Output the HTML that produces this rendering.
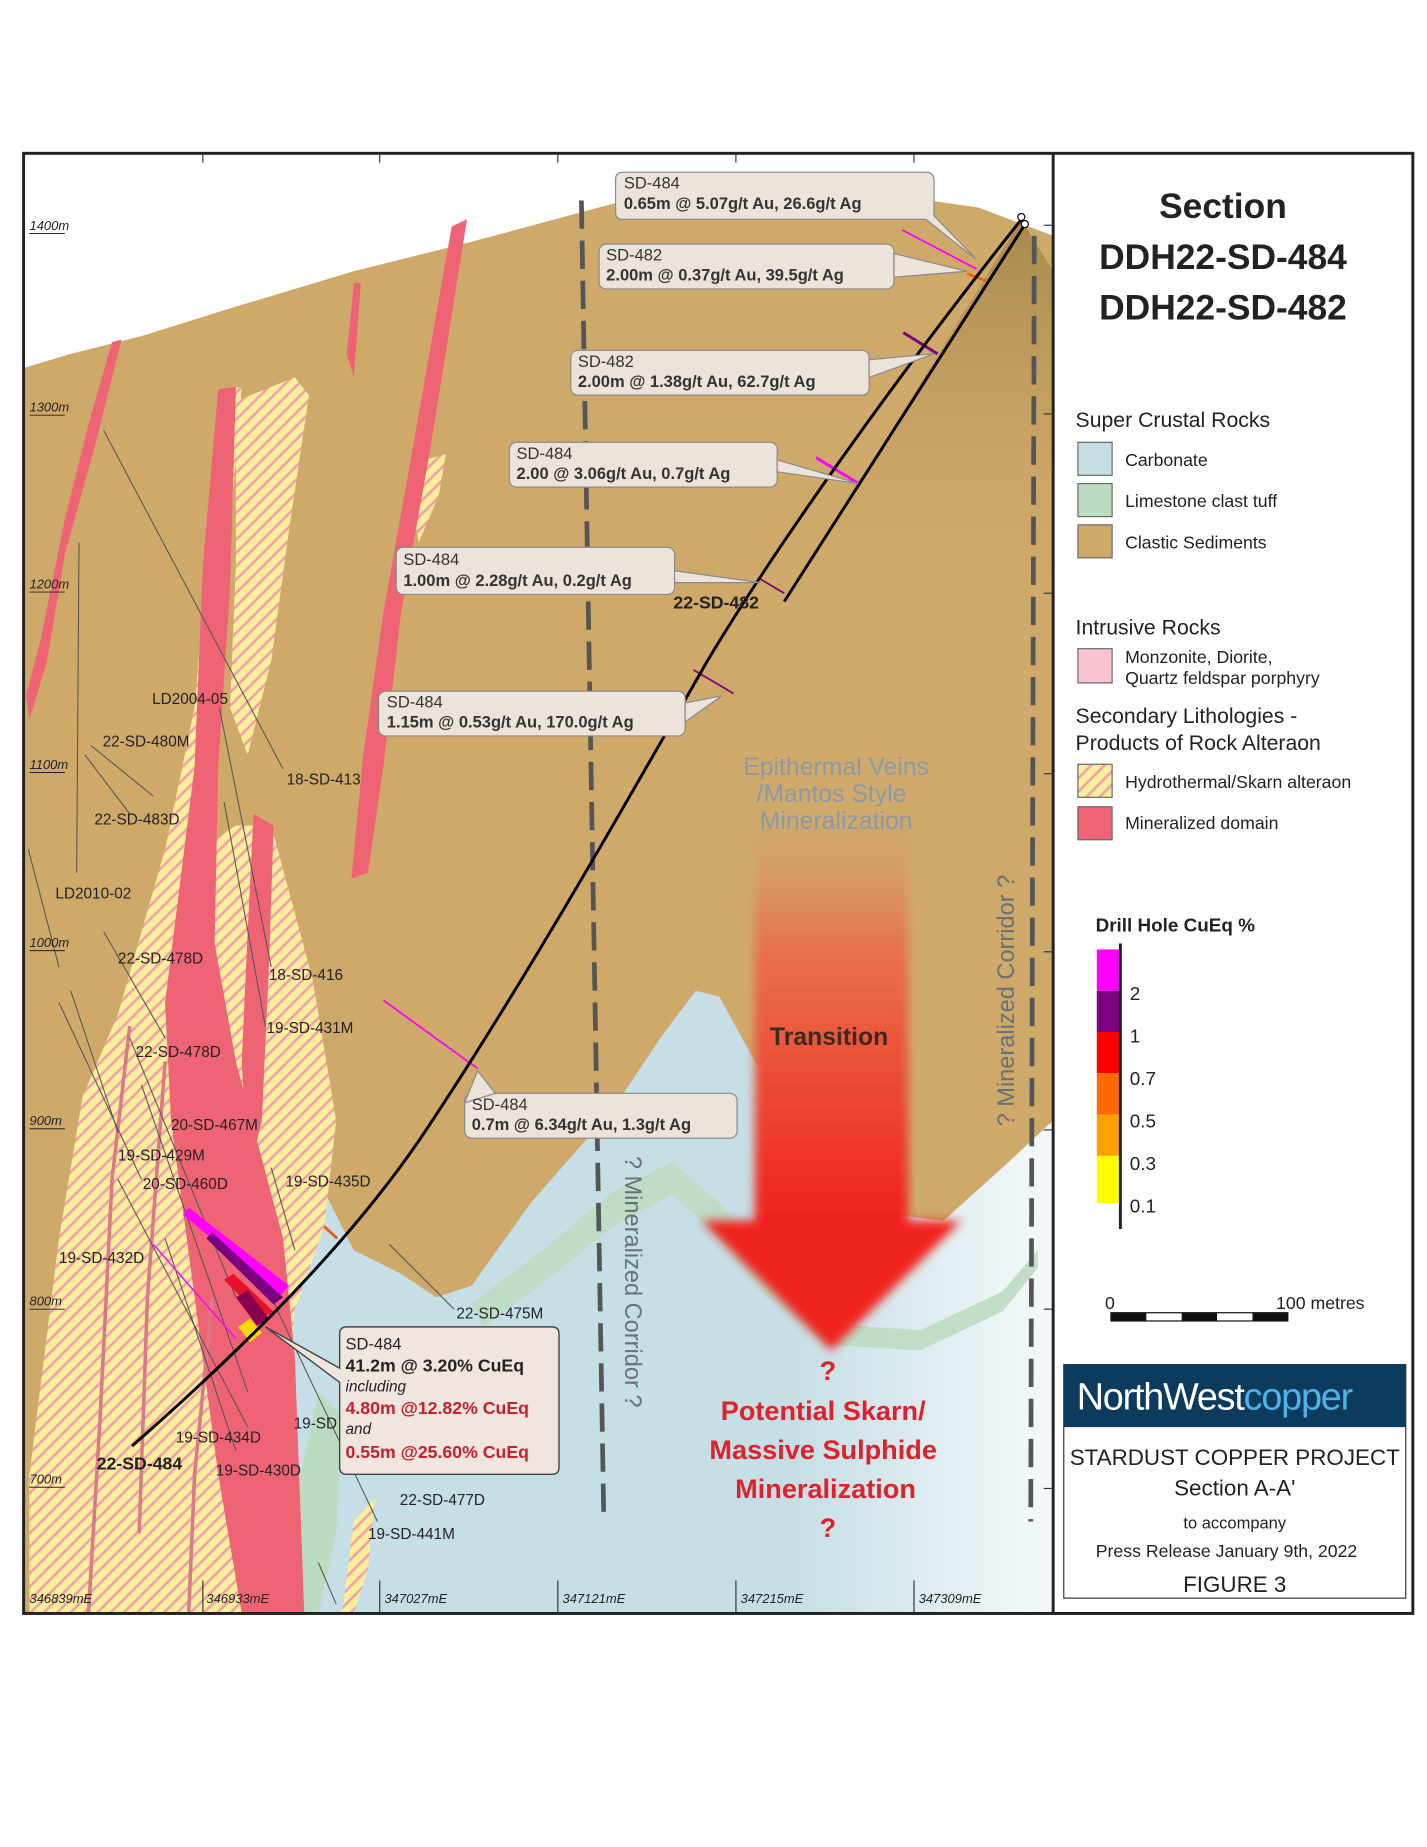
<!DOCTYPE html>
<html><head><meta charset="utf-8"><style>
html,body{margin:0;padding:0;background:#fff}
svg{display:block}
text{font-family:"Liberation Sans",sans-serif}
</style></head><body>
<svg width="1427" height="1847" viewBox="0 0 1210 1566" preserveAspectRatio="none" xmlns="http://www.w3.org/2000/svg">
<defs>
<pattern id="hatch" width="8" height="8" patternUnits="userSpaceOnUse" patternTransform="rotate(45)">
<rect width="8" height="8" fill="#fdee9c"/><rect width="2.2" height="8" fill="#f0a0a8"/>
</pattern>
<linearGradient id="blueFade" x1="0" x2="1" y1="0" y2="0">
<stop offset="0" stop-color="#c6dfe6"/><stop offset="0.75" stop-color="#c6dfe6"/><stop offset="1" stop-color="#f4f9fa"/>
</linearGradient>
<linearGradient id="arrowG" x1="0" x2="0" y1="0" y2="1">
<stop offset="0" stop-color="#d2a36a" stop-opacity="0.3"/><stop offset="0.3" stop-color="#e8734a"/><stop offset="1" stop-color="#f0201c"/>
</linearGradient>
<linearGradient id="shadeG" x1="0" x2="0" y1="0" y2="1">
<stop offset="0" stop-color="#9a7a40" stop-opacity="0.7"/><stop offset="1" stop-color="#cfa96a" stop-opacity="0"/>
</linearGradient>
<filter id="blur"><feGaussianBlur stdDeviation="4"/></filter>
</defs>
<rect width="1210" height="1566" fill="#fff"/>
<rect x="20" y="130" width="873" height="1238" fill="url(#blueFade)"/>
<path d="M20,130 H893 V200 L830,176 L760,166 L680,160 L620,158 L560,162 L500,178 L400,205 L300,230 L200,260 L120,285 L60,300 L20,312Z" fill="#fff"/>
<path d="M20,312 L60,300 L120,285 L200,260 L300,230 L400,205 L500,178 L560,162 L620,158 L680,160 L760,166 L830,176 L893,200 L893,950 L850,990 L800,1035 L760,1030 L720,1000 L680,950 L640,900 L610,845 L590,840 L560,880 L520,940 L450,1020 L400,1090 L370,1100 L340,1080 L300,1060 L270,1000 L260,900 L240,780 L215,730 L195,745 L190,900 L150,1100 L120,1250 L20,1270 Z" fill="#cfa96a"/>
<path d="M20,1270 L120,1250 L60,1368 L20,1368Z" fill="#cfa96a"/>
<path d="M400,1105 L460,1060 L520,1010 L570,985 L610,1020 L660,1080 L700,1122 L780,1128 L850,1095 L880,1060 L880,1075 L850,1112 L780,1145 L700,1140 L650,1098 L600,1040 L570,1013 L520,1040 L460,1088 L410,1125Z" fill="#bcdcc2" opacity="0.9"/>
<path d="M250,1368 L255,1250 L270,1180 L290,1200 L285,1300 L270,1368Z" fill="#bcdcc2"/>
<path d="M866,186 L893,230 L893,520 L660,520 Z" fill="url(#shadeG)"/>
<path d="M25,1368 L25,1250 L50,1050 L70,930 L100,860 L140,720 L165,600 L180,420 L190,330 L205,328 L195,450 L180,600 L170,720 L200,700 L230,700 L265,830 L285,950 L275,1040 L250,1110 L230,1368 Z" fill="url(#hatch)"/>
<path d="M200,340 L250,320 L262,335 L245,450 L230,560 L210,640 L195,600 L200,480Z" fill="url(#hatch)"/>
<path d="M360,390 L378,385 L372,420 L355,460 L350,430Z" fill="url(#hatch)"/>
<path d="M290,1368 L300,1290 L318,1270 L312,1330 L300,1368Z" fill="url(#hatch)"/>
<g fill="#ee6474">
<path d="M185,330 L200,328 L195,500 L185,650 L182,800 L200,900 L240,1050 L250,1150 L258,1368 L205,1368 L185,1250 L165,1100 L145,950 L140,850 L165,650 L172,480Z"/>
<path d="M383,192 L396,186 L365,380 L340,520 L325,650 L312,740 L298,745 L308,640 L325,520 L350,380Z"/>
<path d="M215,690 L232,700 L228,820 L222,950 L210,1000 L205,900 L210,790Z"/>
<path d="M95,290 L103,288 L80,380 L55,470 L40,560 L25,610 L22,590 L35,540 L55,440 L75,360Z"/>
<path d="M300,240 L306,240 L300,320 L294,300Z"/>
</g>
<g stroke="#d97a86" stroke-width="3" fill="none">
<path d="M110,870 L95,1000 L85,1200 L75,1368"/>
<path d="M180,1100 L165,1250 L160,1368"/>
<path d="M140,900 L125,1100 L118,1300"/>
</g>
<g stroke="#555" stroke-width="0.9" fill="none">
<line x1="88" y1="365" x2="240" y2="652"/><line x1="67" y1="460" x2="65" y2="740"/>
<line x1="77" y1="632" x2="130" y2="675"/><line x1="72" y1="640" x2="110" y2="690"/>
<line x1="186" y1="600" x2="230" y2="820"/><line x1="190" y1="680" x2="225" y2="870"/>
<line x1="24" y1="720" x2="50" y2="820"/><line x1="88" y1="790" x2="140" y2="880"/>
<line x1="60" y1="840" x2="100" y2="960"/><line x1="50" y1="850" x2="120" y2="1000"/>
<line x1="110" y1="880" x2="200" y2="1100"/><line x1="120" y1="920" x2="210" y2="1180"/>
<line x1="100" y1="1000" x2="210" y2="1210"/><line x1="140" y1="1050" x2="200" y2="1230"/>
<line x1="230" y1="990" x2="250" y2="1060"/><line x1="230" y1="1100" x2="320" y2="1290"/>
<line x1="330" y1="1055" x2="385" y2="1110"/><line x1="270" y1="1325" x2="285" y2="1360"/>
<line x1="710" y1="945" x2="748" y2="1035"/>
</g>
<line x1="493" y1="170" x2="512" y2="1290" stroke="#555" stroke-width="4" stroke-dasharray="24,10"/>
<line x1="877" y1="200" x2="874" y2="1290" stroke="#555" stroke-width="4" stroke-dasharray="24,10"/>
<g filter="url(#blur)">
<rect x="640" y="700" width="130" height="340" fill="url(#arrowG)"/>
<path d="M595,1035 L815,1035 L705,1145Z" fill="#f0201c"/>
</g>
<g stroke-width="2.5">
<line x1="765" y1="195" x2="828" y2="228" stroke="#ff00ff" stroke-width="1.5"/>
<line x1="820" y1="232" x2="836" y2="238" stroke="#f06010"/>
<line x1="766" y1="282" x2="795" y2="300" stroke="#7a0080"/>
<line x1="692" y1="388" x2="728" y2="410" stroke="#ff00ff"/>
<line x1="643" y1="490" x2="665" y2="503" stroke="#7a0080" stroke-width="1.5"/>
<line x1="588" y1="568" x2="622" y2="588" stroke="#7a0080" stroke-width="1.5"/>
<line x1="325" y1="848" x2="405" y2="906" stroke="#ff00ff" stroke-width="1.5"/>
<line x1="275" y1="1040" x2="286" y2="1050" stroke="#f06010"/>
<line x1="130" y1="1055" x2="200" y2="1135" stroke="#ff00ff" stroke-width="1.2"/>
</g>
<g>
<path d="M155,1030 L160,1024 L245,1090 L238,1098Z" fill="#ff00ff"/>
<path d="M175,1050 L180,1045 L240,1100 L232,1106Z" fill="#7a0080"/>
<path d="M190,1085 L198,1080 L232,1112 L222,1118Z" fill="#e8102a"/>
<path d="M200,1100 L210,1094 L228,1118 L218,1124Z" fill="#8a0050"/>
<path d="M202,1125 L212,1118 L222,1130 L212,1138Z" fill="#ffd800"/>
</g>
<path d="M866,186 C760,320 660,460 600,560 C520,700 440,840 360,960 C300,1050 210,1140 112,1226" stroke="#000" stroke-width="2.5" fill="none"/>
<line x1="868" y1="192" x2="665" y2="510" stroke="#000" stroke-width="2.5"/>
<circle cx="866" cy="184" r="3" fill="#fff" stroke="#000"/><circle cx="869" cy="190" r="3" fill="#fff" stroke="#000"/>
<rect x="20" y="130" width="1178" height="1238" fill="none" stroke="#222" stroke-width="2.5"/>
<line x1="893" y1="130" x2="893" y2="1368" stroke="#222" stroke-width="2.5"/>
<g stroke="#333" stroke-width="1">
<line x1="885" y1="191" x2="893" y2="191"/><line x1="885" y1="351" x2="893" y2="351"/><line x1="885" y1="503" x2="893" y2="503"/><line x1="885" y1="656" x2="893" y2="656"/><line x1="885" y1="807" x2="893" y2="807"/><line x1="885" y1="958" x2="893" y2="958"/><line x1="885" y1="1110" x2="893" y2="1110"/><line x1="885" y1="1262" x2="893" y2="1262"/>
<line x1="172" y1="130" x2="172" y2="138"/><line x1="322" y1="130" x2="322" y2="138"/><line x1="473" y1="130" x2="473" y2="138"/><line x1="624" y1="130" x2="624" y2="138"/><line x1="775" y1="130" x2="775" y2="138"/>
<line x1="172" y1="1340" x2="172" y2="1368"/><line x1="322" y1="1340" x2="322" y2="1368"/><line x1="473" y1="1340" x2="473" y2="1368"/><line x1="624" y1="1340" x2="624" y2="1368"/><line x1="775" y1="1340" x2="775" y2="1368"/>
</g>
<g font-size="11" font-style="italic" fill="#222">
<text x="25" y="195">1400m</text><text x="25" y="349">1300m</text><text x="25" y="499">1200m</text><text x="25" y="652">1100m</text><text x="25" y="803">1000m</text><text x="25" y="954">900m</text><text x="25" y="1107">800m</text><text x="25" y="1258">700m</text>
<text x="25" y="1359">346839mE</text><text x="175" y="1359">346933mE</text><text x="326" y="1359">347027mE</text><text x="477" y="1359">347121mE</text><text x="628" y="1359">347215mE</text><text x="779" y="1359">347309mE</text>
</g>
<g stroke="#222" stroke-width="0.8"><line x1="25" y1="198" x2="55" y2="198"/><line x1="25" y1="352" x2="55" y2="352"/><line x1="25" y1="502" x2="55" y2="502"/><line x1="25" y1="655" x2="55" y2="655"/><line x1="25" y1="806" x2="55" y2="806"/><line x1="25" y1="957" x2="55" y2="957"/><line x1="25" y1="1110" x2="55" y2="1110"/><line x1="25" y1="1261" x2="55" y2="1261"/></g>
<g font-size="13" fill="#222">
<text x="129" y="597">LD2004-05</text><text x="87" y="633">22-SD-480M</text><text x="243" y="665">18-SD-413</text><text x="80" y="699">22-SD-483D</text><text x="47" y="762">LD2010-02</text>
<text x="100" y="817">22-SD-478D</text><text x="228" y="831">18-SD-416</text><text x="226" y="876">19-SD-431M</text><text x="115" y="896">22-SD-478D</text>
<text x="145" y="958">20-SD-467M</text><text x="100" y="984">19-SD-429M</text><text x="121" y="1008">20-SD-460D</text><text x="242" y="1006">19-SD-435D</text><text x="50" y="1071">19-SD-432D</text>
<text x="387" y="1118">22-SD-475M</text><text x="149" y="1223">19-SD-434D</text><text x="249" y="1211">19-SD</text><text x="183" y="1251">19-SD-430D</text><text x="339" y="1276">22-SD-477D</text><text x="312" y="1305">19-SD-441M</text>
</g>
<text x="82" y="1246" font-size="15" font-weight="bold" fill="#222">22-SD-484</text>
<text x="571" y="516" font-size="15" font-weight="bold" fill="#222">22-SD-482</text>
<g font-size="14" fill="#333">
<g fill="#ece3da" stroke="#888" stroke-width="1">
<path d="M528,146 H785 Q792,146 792,153 V183 L828,220 L785,186 H528 Q522,186 522,180 V152 Q522,146 528,146Z"/>
<rect x="508" y="207" width="250" height="38" rx="6"/><path d="M758,215 L820,230 L758,235Z"/>
<rect x="484" y="297" width="253" height="38" rx="6"/><path d="M737,305 L792,300 L737,320Z"/>
<rect x="432" y="375" width="227" height="38" rx="6"/><path d="M659,390 L728,410 L659,400Z"/>
<rect x="336" y="464" width="236" height="40" rx="6"/><path d="M572,484 L645,494 L572,494Z"/>
<rect x="321" y="586" width="260" height="38" rx="6"/><path d="M581,596 L612,590 L581,612Z"/>
<rect x="394" y="927" width="231" height="38" rx="6"/><path d="M394,935 L405,908 L420,927Z"/>
</g>
<text x="529" y="160">SD-484</text><text x="529" y="177" font-weight="bold">0.65m @ 5.07g/t Au, 26.6g/t Ag</text>
<text x="514" y="221">SD-482</text><text x="514" y="238" font-weight="bold">2.00m @ 0.37g/t Au, 39.5g/t Ag</text>
<text x="490" y="311">SD-482</text><text x="490" y="328" font-weight="bold">2.00m @ 1.38g/t Au, 62.7g/t Ag</text>
<text x="438" y="389">SD-484</text><text x="438" y="406" font-weight="bold">2.00 @ 3.06g/t Au, 0.7g/t Ag</text>
<text x="342" y="479">SD-484</text><text x="342" y="497" font-weight="bold">1.00m @ 2.28g/t Au, 0.2g/t Ag</text>
<text x="328" y="600">SD-484</text><text x="328" y="617" font-weight="bold">1.15m @ 0.53g/t Au, 170.0g/t Ag</text>
<text x="400" y="941">SD-484</text><text x="400" y="958" font-weight="bold">0.7m @ 6.34g/t Au, 1.3g/t Ag</text>
</g>
<path d="M294,1125 H468 Q474,1125 474,1131 V1244 Q474,1250 468,1250 H294 Q288,1250 288,1244 V1172 L225,1125 L288,1160 V1131 Q288,1125 294,1125Z" fill="#f1e5e0" stroke="#444" stroke-width="1.2"/>
<g font-size="14" fill="#222">
<text x="293" y="1144">SD-484</text>
<text x="293" y="1163" font-size="15" font-weight="bold">41.2m   @ 3.20% CuEq</text>
<text x="293" y="1180" font-size="13" font-style="italic">including</text>
<text x="293" y="1199" font-size="15" font-weight="bold" fill="#c8202a">4.80m @12.82% CuEq</text>
<text x="293" y="1216" font-size="13" font-style="italic">and</text>
<text x="293" y="1236" font-size="15" font-weight="bold" fill="#c8202a">0.55m @25.60% CuEq</text>
</g>
<g font-size="21" fill="#8a98a8" text-anchor="middle">
<text x="709" y="657">Epithermal Veins</text><text x="705" y="680">/Mantos Style</text><text x="709" y="703">Mineralization</text>
</g>
<text x="703" y="886" font-size="21" font-weight="bold" fill="#3a2a20" text-anchor="middle">Transition</text>
<g font-size="23" font-weight="bold" fill="#e0202a" text-anchor="middle">
<text x="702" y="1170">?</text><text x="698" y="1204">Potential Skarn/</text><text x="698" y="1237">Massive Sulphide</text><text x="700" y="1270">Mineralization</text><text x="702" y="1303">?</text>
</g>
<text transform="translate(530,980) rotate(90)" font-size="20" fill="#6a7078">? Mineralized Corridor ?</text>
<text transform="translate(860,955) rotate(-90)" font-size="20" fill="#6a7078">? Mineralized Corridor ?</text>
<g fill="#222" text-anchor="middle" font-size="30" font-weight="bold">
<text x="1037" y="185">Section</text><text x="1037" y="228">DDH22-SD-484</text><text x="1037" y="271">DDH22-SD-482</text>
</g>
<g font-size="18" fill="#222">
<text x="912" y="362">Super Crustal Rocks</text><text x="912" y="538">Intrusive Rocks</text>
<text x="912" y="613">Secondary Lithologies -</text><text x="912" y="636">Products of Rock Alteraon</text>
</g>
<g stroke="#666" stroke-width="1">
<rect x="914" y="375" width="29" height="28" fill="#c6dfe6"/><rect x="914" y="410" width="29" height="28" fill="#bcdcc2"/><rect x="914" y="445" width="29" height="28" fill="#cfa96a"/>
<rect x="914" y="550" width="29" height="29" fill="#f7c4d0"/><rect x="914" y="648" width="29" height="28" fill="url(#hatch)"/><rect x="914" y="684" width="29" height="28" fill="#ee6474"/>
</g>
<g font-size="15" fill="#222">
<text x="954" y="395">Carbonate</text><text x="954" y="430">Limestone clast tuff</text><text x="954" y="465">Clastic Sediments</text>
<text x="954" y="562">Monzonite, Diorite,</text><text x="954" y="580">Quartz feldspar porphyry</text>
<text x="954" y="668">Hydrothermal/Skarn alteraon</text><text x="954" y="703">Mineralized domain</text>
</g>
<text x="929" y="790" font-size="16" font-weight="bold" fill="#222">Drill Hole CuEq %</text>
<rect x="930" y="805" width="20" height="35" fill="#ff00ff"/><rect x="930" y="840" width="20" height="35" fill="#800080"/><rect x="930" y="875" width="20" height="35" fill="#ff0000"/><rect x="930" y="910" width="20" height="35" fill="#ff6a00"/><rect x="930" y="945" width="20" height="35" fill="#ffa000"/><rect x="930" y="980" width="20" height="40" fill="#ffff00"/>
<line x1="950" y1="800" x2="950" y2="1042" stroke="#222" stroke-width="2.5"/>
<g font-size="16" fill="#222"><text x="958" y="848">2</text><text x="958" y="884">1</text><text x="958" y="920">0.7</text><text x="958" y="956">0.5</text><text x="958" y="992">0.3</text><text x="958" y="1028">0.1</text></g>
<text x="937" y="1110" font-size="15" fill="#222">0</text><text x="1082" y="1110" font-size="15" fill="#222">100 metres</text>
<rect x="942" y="1113" width="150" height="7" fill="#fff" stroke="#111"/>
<rect x="942" y="1113" width="30" height="7" fill="#111"/><rect x="1002" y="1113" width="30" height="7" fill="#111"/><rect x="1062" y="1113" width="30" height="7" fill="#111"/>
<rect x="902" y="1157" width="290" height="198" fill="#fff" stroke="#333" stroke-width="1"/>
<rect x="902" y="1157" width="290" height="53" fill="#0c3b5e"/>
<text x="913" y="1195" font-size="32" fill="#fff" letter-spacing="-1">NorthWest<tspan fill="#4fb3e8">copper</tspan></text>
<g text-anchor="middle" fill="#222">
<text x="1047" y="1242" font-size="19">STARDUST COPPER PROJECT</text>
<text x="1047" y="1268" font-size="19">Section A-A'</text>
<text x="1047" y="1296" font-size="14">to accompany</text>
<text x="1040" y="1320" font-size="15">Press Release January 9th, 2022</text>
<text x="1047" y="1350" font-size="19">FIGURE 3</text>
</g>
</svg>
</body></html>
